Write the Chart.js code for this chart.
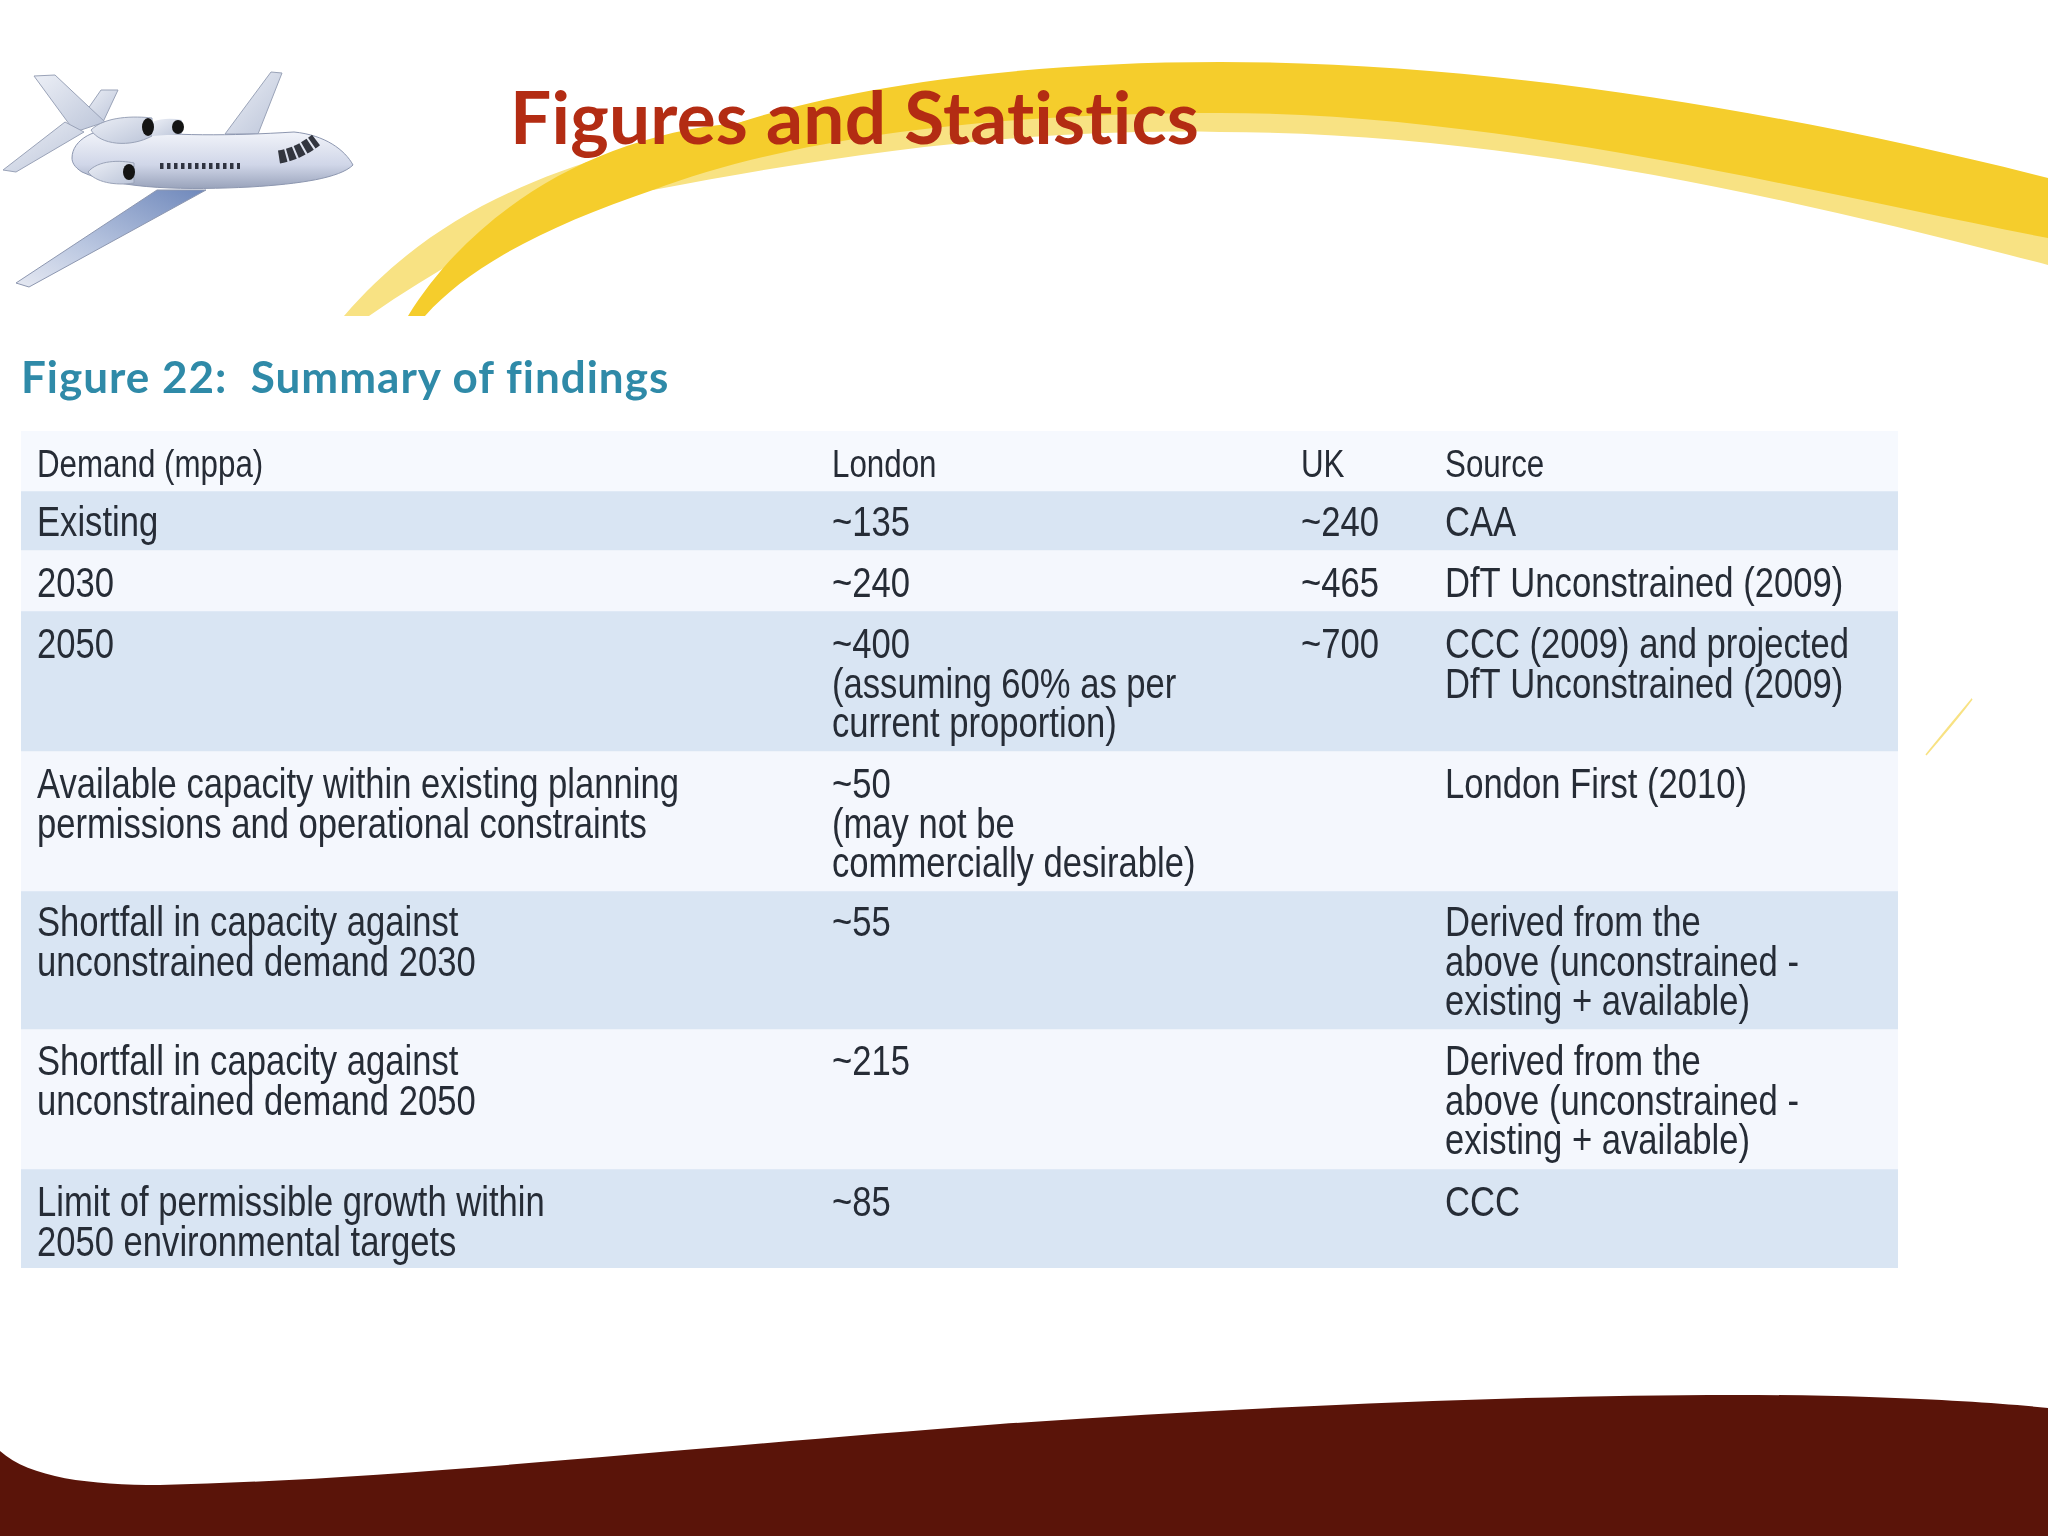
<!DOCTYPE html>
<html>
<head>
<meta charset="utf-8">
<script src="https://cdn.jsdelivr.net/npm/chart.js@4/dist/chart.umd.min.js"></script>
<style>
    html, body { margin: 0; padding: 0; background: #fff; }
    #page { position: relative; width: 2048px; height: 1536px; overflow: hidden; background: #fff; }
    #art, #table { position: absolute; left: 0; top: 0; }
    #table { filter: blur(0.6px); }
    #title { position: absolute; left: 510px; top: 72px; font: bold 73px Lato, sans-serif; font-variant-ligatures: none; letter-spacing: 0.2px; color: #b32c13; white-space: nowrap; }
    #caption { position: absolute; left: 21px; top: 350px; font: bold 44px Lato, sans-serif; letter-spacing: 1px; color: #2f8aa8; white-space: pre; filter: blur(0.7px); }
</style>
</head>
<body>
<div id="page">
    <svg id="art" width="2048" height="1536" viewBox="0 0 2048 1536">
        <defs>
            <linearGradient id="body" x1="0" y1="0" x2="0" y2="1">
                <stop offset="0" stop-color="#f4f6fb"/>
                <stop offset="0.6" stop-color="#d0d6e8"/>
                <stop offset="1" stop-color="#99a3bb"/>
            </linearGradient>
            <linearGradient id="wing" x1="1" y1="0" x2="0" y2="1">
                <stop offset="0" stop-color="#6f88bb"/>
                <stop offset="0.6" stop-color="#b9c6e0"/>
                <stop offset="1" stop-color="#e6e9f2"/>
            </linearGradient>
            <linearGradient id="fin" x1="0" y1="0" x2="1" y2="1">
                <stop offset="0" stop-color="#eceff6"/>
                <stop offset="1" stop-color="#bcc5d9"/>
            </linearGradient>
        </defs>
        <!-- swoosh -->
        <path d="M344 316 C 440 205, 560 160, 751 120 L 800 150 C 640 165, 500 225, 369 316 Z" fill="#f8e283"/>
        <path d="M653 188 C 800 120, 1000 80, 1220 80 C 1500 85, 1800 150, 2048 200 L 2048 265 C 1780 195, 1500 132, 1220 132 C 1040 128, 860 150, 653 190 Z" fill="#f8e283"/>
        <path d="M408 316 C 470 215, 590 135, 738 123 C 830 92, 1000 62, 1220 62 C 1500 62, 1800 115, 2048 178 L 2048 238 C 1800 190, 1500 113, 1220 113 C 1000 113, 800 135, 653 190 C 550 225, 470 265, 425 316 Z" fill="#f5cd2c"/>
        <path d="M1972 699 C 1955 722, 1940 738, 1926 755 C 1942 735, 1958 716, 1972 699 Z" fill="#f8e283" stroke="#f8e283" stroke-width="1.5"/>
        <!-- plane -->
        <path d="M225 134 L271 72 L282 73 L258 134 Z" fill="url(#fin)" stroke="#9aa3b8" stroke-width="1"/>
        <path d="M85 113 L101 90 L118 90 L103 122 Z" fill="url(#fin)" stroke="#9aa3b8" stroke-width="1"/>
        <path d="M34 76 L55 75 L105 122 L75 132 Z" fill="url(#fin)" stroke="#9aa3b8" stroke-width="1"/>
        <path d="M65 122 L84 132 L16 172 L3 170 Z" fill="url(#fin)" stroke="#9aa3b8" stroke-width="1"/>
        <path d="M157 190 L16 283 L29 287 L206 190 Z" fill="url(#wing)" stroke="#8d97b0" stroke-width="1"/>
        <path d="M72 158 C 72 140, 95 126, 125 130 C 170 136, 230 136, 294 132 C 325 135, 345 150, 353 165 C 340 178, 300 184, 250 187 C 190 190, 120 190, 82 172 C 74 167, 72 162, 72 158 Z" fill="url(#body)" stroke="#8d97b0" stroke-width="1"/>
        <path d="M91 130 C 105 116, 135 116, 152 118 L152 136 C 130 148, 100 145, 91 130 Z" fill="url(#fin)" stroke="#9aa3b8" stroke-width="1"/>
        <path d="M152 122 C 162 118, 172 118, 182 120 L182 134 L152 136 Z" fill="url(#fin)"/>
        <ellipse cx="148" cy="127" rx="6" ry="9" fill="#141414"/>
        <ellipse cx="178" cy="127" rx="6" ry="7" fill="#141414"/>
        <path d="M88 172 C 98 160, 120 160, 134 163 L134 183 C 115 186, 95 182, 88 172 Z" fill="url(#fin)" stroke="#9aa3b8" stroke-width="1"/>
        <ellipse cx="129" cy="172" rx="6" ry="8" fill="#141414"/>
        <line x1="160" y1="166" x2="240" y2="166" stroke="#2f3340" stroke-width="6" stroke-dasharray="3.5 3.5"/>
        <path d="M279 157 Q 298 154 316 140" fill="none" stroke="#33363f" stroke-width="13" stroke-dasharray="7 2"/>
        <!-- bottom band -->
        <path d="M0 1451 C 30 1478, 90 1485, 160 1485 C 383 1480, 640 1452, 1000 1424 C 1334 1401, 1668 1390, 1869 1397 C 1950 1400, 2000 1403, 2048 1408 L 2048 1536 L 0 1536 Z" fill="#5a1409"/>
    </svg>
    <div id="title">Figures and Statistics</div>
    <div id="caption">Figure 22:  Summary of findings</div>
    <canvas id="table" width="2048" height="1536"></canvas>
</div>
<script>
const rowLabels = ["Demand (mppa)", "Existing", "2030", "2050",
    "Available capacity within existing planning\npermissions and operational constraints",
    "Shortfall in capacity against\nunconstrained demand 2030",
    "Shortfall in capacity against\nunconstrained demand 2050",
    "Limit of permissible growth within\n2050 environmental targets"];
const londonValues = ["London", "~135", "~240", "~400\n(assuming 60% as per\ncurrent proportion)",
    "~50\n(may not be\ncommercially desirable)", "~55", "~215", "~85"];
const ukValues = ["UK", "~240", "~465", "~700", "", "", "", ""];
const sourceValues = ["Source", "CAA", "DfT Unconstrained (2009)",
    "CCC (2009) and projected\nDfT Unconstrained (2009)", "London First (2010)",
    "Derived from the\nabove (unconstrained -\nexisting + available)",
    "Derived from the\nabove (unconstrained -\nexisting + available)", "CCC"];
const rowHeights = [60, 59, 61, 140, 140, 138, 140, 99];
const rowColors = ["#f6f9fe", "#d9e5f3", "#f4f7fd", "#d9e5f3", "#f4f7fd", "#d9e5f3", "#f4f7fd", "#d9e5f3"];
const columnStarts = [16, 811, 1280, 1424];
const columns = [rowLabels, londonValues, ukValues, sourceValues];
const tableWidth = 1877;
const lineHeight = 39.5;
const rowBaselines = [46, 45, 47, 47, 47, 45, 46, 47];
const narrow = 0.824; // the original face is condensed, none is installed

const cellText = {
    id: "cellText",
    afterDatasetsDraw(chart) {
        const ctx = chart.ctx;
        const xs = chart.scales.col;
        const ys = chart.scales.y;
        ctx.save();
        ctx.fillStyle = "#262c36";
        ctx.textBaseline = "alphabetic";
        columns.forEach((col, c) => {
            let top = 0;
            col.forEach((text, r) => {
                ctx.font = (r === 0 ? "38px" : "42px") + ' "Liberation Sans", sans-serif';
                text.split("\n").forEach((line, l) => {
                    const x = xs.getPixelForValue(columnStarts[c]);
                    const y = ys.getPixelForValue(top + rowBaselines[r] + l * lineHeight);
                    ctx.save();
                    ctx.translate(x, y);
                    ctx.scale(narrow, 1);
                    ctx.fillText(line, 0, 0);
                    ctx.restore();
                });
                top += rowHeights[r];
            });
        });
        ctx.restore();
    },
};

new Chart(document.getElementById("table").getContext("2d"), {
    type: "bar",
    data: {
        labels: ["Summary of findings"],
        datasets: rowHeights.map((h, i) => ({
            label: rowLabels[i],
            data: [h],
            backgroundColor: rowColors[i],
            borderWidth: 0,
            barPercentage: 1,
            categoryPercentage: 1,
        })),
    },
    options: {
        responsive: false,
        animation: false,
        devicePixelRatio: 1,
        layout: { padding: { left: 21, right: 150, top: 431, bottom: 268 } },
        plugins: { legend: { display: false }, tooltip: { enabled: false }, title: { display: false } },
        scales: {
            x: { stacked: true, display: false },
            col: { type: "linear", display: false, axis: "x", position: "top", offset: false, min: 0, max: tableWidth },
            y: {
                stacked: true,
                display: false,
                reverse: true,
                min: 0,
                max: rowHeights.reduce((a, b) => a + b, 0),
            },
        },
    },
    plugins: [cellText],
});
</script>
</body>
</html>
